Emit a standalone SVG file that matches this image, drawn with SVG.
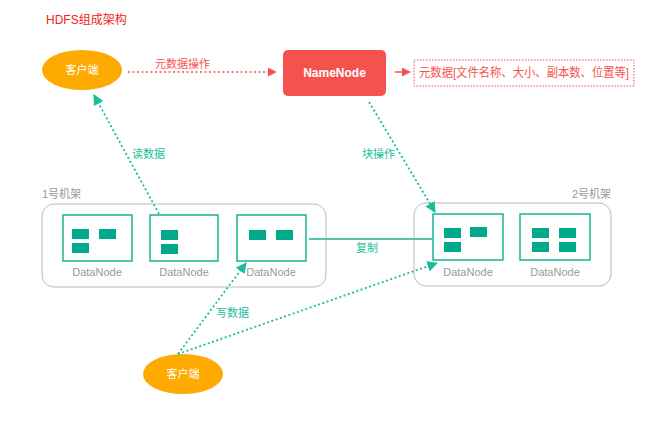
<svg xmlns="http://www.w3.org/2000/svg" width="661" height="436" viewBox="0 0 661 436">
<defs>
<style>
text{font-family:"Liberation Sans","Noto Sans CJK SC",sans-serif}
.rack{fill:none;stroke:#bbb;stroke-width:1}
.dn{fill:#fff;stroke:#1ab394;stroke-width:1.5}
.blk{fill:#00a98a}
.dnl{font-size:11px;fill:#999;text-anchor:middle}
.g{stroke:#1abc9c;stroke-width:1.8;stroke-dasharray:2 2.5;fill:none}
.gl{font-size:11px;fill:#1abc9c}
.cl{fill:#ffaa00}
</style>
<marker id="ga" viewBox="0 0 10 10" refX="9" refY="5" markerWidth="6" markerHeight="6" orient="auto"><path d="M0,0L10,5L0,10z" fill="#1abc9c"/></marker>
<marker id="ra" viewBox="0 0 10 10" refX="9" refY="5" markerWidth="6" markerHeight="6" orient="auto"><path d="M0,0L10,5L0,10z" fill="#f5524f"/></marker>
</defs>
<text x="46" y="24" font-size="12" fill="#f02020">HDFS组成架构</text>
<g id="client1"><ellipse class="cl" cx="82" cy="70" rx="40" ry="20"/><text x="82" y="74" font-size="11" fill="#fff" text-anchor="middle">客户端</text></g>
<g id="namenode"><rect x="283" y="50" width="103" height="46" rx="5" fill="#f5524f"/><text x="334.5" y="77" font-size="12" fill="#fff" text-anchor="middle" font-weight="bold">NameNode</text></g>
<g id="meta"><rect x="414" y="60" width="220" height="26" fill="none" stroke="#f5524f" stroke-dasharray="1.5 1.5"/><text x="419" y="77" font-size="12" fill="#f5524f" textLength="210" lengthAdjust="spacingAndGlyphs">元数据[文件名称、大小、副本数、位置等]</text></g>
<text x="42" y="198" font-size="11" fill="#999">1号机架</text>
<text x="572" y="198" font-size="11" fill="#999">2号机架</text>
<g id="rack1"><rect class="rack" x="42" y="204" width="284" height="83" rx="12"/></g>
<g id="rack2"><rect class="rack" x="414" y="203" width="197" height="83" rx="12"/></g>
<g id="dn1"><rect class="dn" x="63" y="215" width="69" height="46"/><rect class="blk" x="72" y="229" width="17" height="10"/><rect class="blk" x="99" y="229" width="17" height="10"/><rect class="blk" x="72" y="243" width="17" height="10"/><text class="dnl" x="97" y="276">DataNode</text></g>
<g id="dn2"><rect class="dn" x="150" y="215" width="68" height="46"/><rect class="blk" x="161" y="230" width="17" height="10"/><rect class="blk" x="161" y="244" width="17" height="10"/><text class="dnl" x="184" y="276">DataNode</text></g>
<g id="dn3"><rect class="dn" x="237" y="215" width="69" height="46"/><rect class="blk" x="249" y="230" width="17" height="10"/><rect class="blk" x="276" y="230" width="17" height="10"/><text class="dnl" x="271" y="276">DataNode</text></g>
<g id="dn4"><rect class="dn" x="433" y="214" width="70" height="46"/><rect class="blk" x="444" y="228" width="17" height="10"/><rect class="blk" x="470" y="227" width="17" height="10"/><rect class="blk" x="444" y="242" width="17" height="10"/><text class="dnl" x="468" y="276">DataNode</text></g>
<g id="dn5"><rect class="dn" x="520" y="214" width="70" height="46"/><rect class="blk" x="532" y="228" width="17" height="10"/><rect class="blk" x="559" y="228" width="17" height="10"/><rect class="blk" x="532" y="242" width="17" height="10"/><rect class="blk" x="559" y="242" width="17" height="10"/><text class="dnl" x="555" y="276">DataNode</text></g>
<g id="client2"><ellipse class="cl" cx="183" cy="374" rx="40" ry="20"/><text x="183" y="378" font-size="11" fill="#fff" text-anchor="middle">客户端</text></g>
<g id="connectors">
<path d="M128,72H276" stroke="#f5524f" stroke-width="1.5" stroke-dasharray="2 2.5" fill="none" marker-end="url(#ra)"/>
<text x="155" y="68" font-size="11" fill="#f5524f">元数据操作</text>
<path d="M395,72H410" stroke="#f5524f" stroke-width="1.5" fill="none" marker-end="url(#ra)"/>
<path class="g" d="M159,214L94,95" marker-end="url(#ga)"/>
<text class="gl" x="132" y="158">读数据</text>
<path class="g" d="M369,102L435,212" marker-end="url(#ga)"/>
<text class="gl" x="362" y="158">块操作</text>
<path d="M309,239H432" stroke="#1ab394" stroke-width="1.5"/>
<text class="gl" x="356" y="252">复制</text>
<path class="g" d="M178,354L246,263" marker-end="url(#ga)"/>
<path class="g" d="M178,354L437,263" marker-end="url(#ga)"/>
<text class="gl" x="216" y="317">写数据</text>
</g>
</svg>
